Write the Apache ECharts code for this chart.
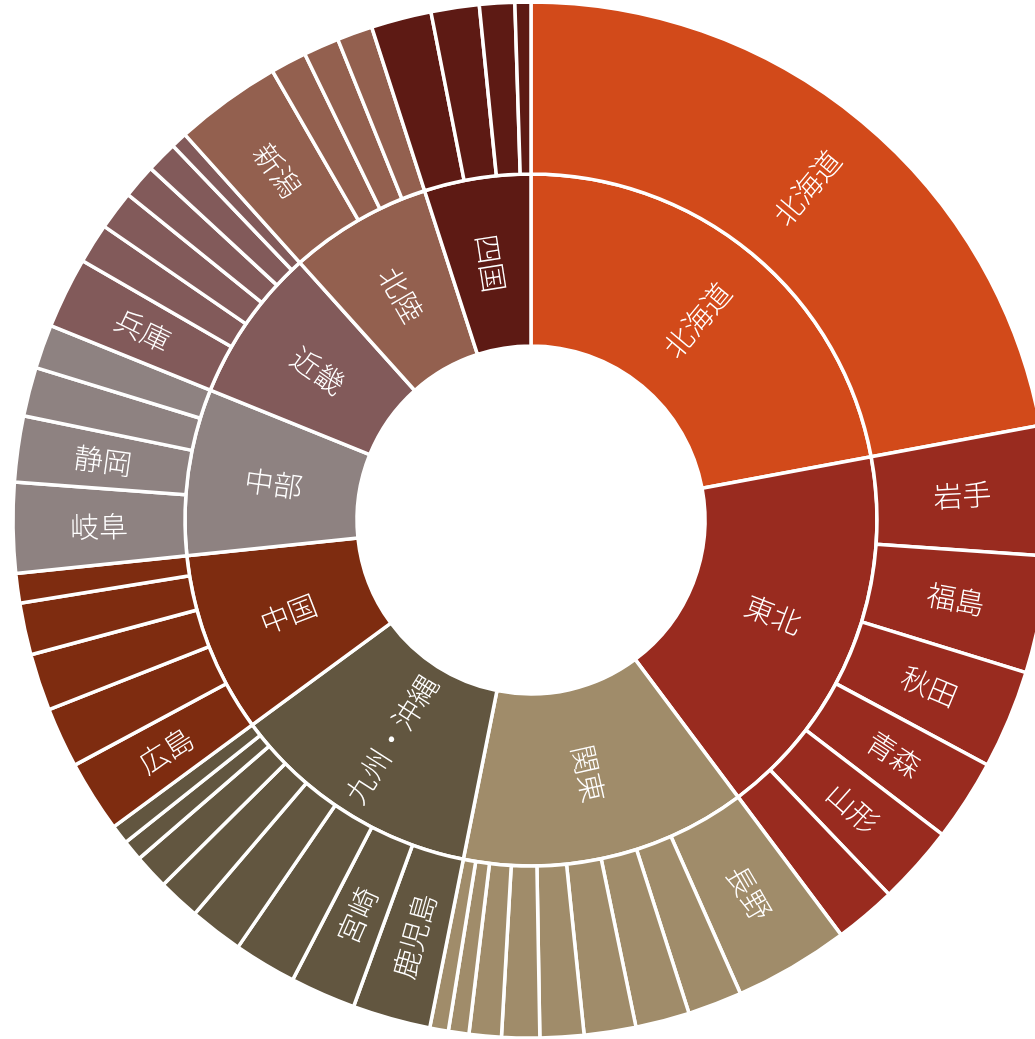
<!DOCTYPE html>
<html>
<head>
<meta charset="utf-8">
<script src="https://cdn.jsdelivr.net/npm/echarts@6/dist/echarts.min.js"></script>
<style>
html,body{margin:0;padding:0;background:#fff;}
#chart{width:1035px;height:1039px;}
</style>
</head>
<body>
<div id="chart"></div>
<script>
// Regions (inner ring)
const regions = ['北海道', '東北', '関東', '九州・沖縄', '中国', '中部', '近畿', '北陸', '四国'];
const regionColors = ['#D24A1A', '#992B1F', '#A08C6A', '#625640', '#7E2C10', '#8E8281', '#825A5A', '#93604F', '#5D1A14'];

// Prefectures (outer ring), area in km²
const hokkaidoNames = ['北海道'];
const hokkaidoValues = [83424];
const tohokuNames = ['岩手', '福島', '秋田', '青森', '山形', '宮城'];
const tohokuValues = [15275, 13784, 11638, 9646, 9323, 7282];
const kantoNames = ['長野', '栃木', '群馬', '茨城', '千葉', '山梨', '埼玉', '神奈川', '東京'];
const kantoValues = [13562, 6408, 6362, 6097, 5158, 4465, 3798, 2416, 2194];
const kyushuNames = ['鹿児島', '宮崎', '熊本', '大分', '福岡', '長崎', '佐賀', '沖縄'];
const kyushuValues = [9187, 7735, 7409, 6341, 4987, 4131, 2441, 2282];
const chugokuNames = ['広島', '岡山', '島根', '山口', '鳥取'];
const chugokuValues = [8479, 7115, 6708, 6113, 3507];
const chubuNames = ['岐阜', '静岡', '三重', '愛知'];
const chubuValues = [10621, 7777, 5774, 5173];
const kinkiNames = ['兵庫', '和歌山', '京都', '滋賀', '奈良', '大阪'];
const kinkiValues = [8401, 4725, 4612, 4017, 3691, 1905];
const hokurikuNames = ['新潟', '富山', '福井', '石川'];
const hokurikuValues = [12584, 4248, 4191, 4186];
const shikokuNames = ['高知', '愛媛', '徳島', '香川'];
const shikokuValues = [7104, 5676, 4147, 1877];

const childNames = [hokkaidoNames, tohokuNames, kantoNames, kyushuNames, chugokuNames, chubuNames, kinkiNames, hokurikuNames, shikokuNames];
const childValues = [hokkaidoValues, tohokuValues, kantoValues, kyushuValues, chugokuValues, chubuValues, kinkiValues, hokurikuValues, shikokuValues];

const data = regions.map((r, i) => ({
  name: r,
  itemStyle: { color: regionColors[i] },
  children: childNames[i].map((n, j) => ({
    name: n,
    value: childValues[i][j],
    itemStyle: { color: regionColors[i] }
  }))
}));

const chart = echarts.init(document.getElementById('chart'), null, { renderer: 'canvas' });
chart.setOption({
  animation: false,
  series: [{
    type: 'sunburst',
    center: [531, 520],
    radius: [174, 518],
    startAngle: 90,
    clockwise: true,
    sort: 'desc',
    nodeClick: false,
    data: data,
    itemStyle: { borderColor: '#ffffff', borderWidth: 3.5 },
    label: {
      rotate: 'radial',
      color: '#ffffff',
      fontSize: 29,
      fontFamily: '"Noto Sans CJK JP", sans-serif',
      fontWeight: 300,
      minAngle: 7.2
    },
    emphasis: { focus: 'none' }
  }]
});
</script>
</body>
</html>
